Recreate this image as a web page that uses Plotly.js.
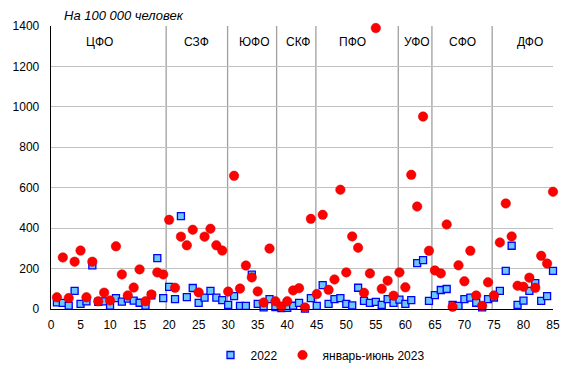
<!DOCTYPE html>
<html>
<head>
<meta charset="utf-8">
<script src="https://cdn.plot.ly/plotly-3.0.1.min.js"></script>
<style>html,body{margin:0;padding:0;background:#fff;}#chart{width:576px;height:374px;}</style>
</head>
<body>
<div id="chart"></div>
<script>
// Region index (subject number)
var regionIndex = [1,2,3,4,5,6,7,8,9,10,11,12,13,14,15,16,17,18,19,20,
  21,22,23,24,25,26,27,28,29,30,31,32,33,34,35,36,37,38,39,40,
  41,42,43,44,45,46,47,48,49,50,51,52,53,54,55,56,57,58,59,60,
  61,62,63,64,65,66,67,68,69,70,71,72,73,74,75,76,77,78,79,80,
  81,82,83,84,85];

// 2022, per 100 000 people
var values2022 = [33,30,16,90,25,38,216,35,38,16,54,36,51,41,31,16,67,252,54,109,
  49,459,59,104,30,56,90,56,44,20,64,15,15,170,25,8,49,10,5,6,
  16,30,2,54,15,118,25,49,54,25,18,105,40,30,35,20,49,30,46,25,
  44,227,242,40,69,94,99,20,15,49,56,31,8,49,57,90,189,313,20,41,
  90,128,40,64,189];

// January-June 2023, per 100 000 people
var values2023 = [58,255,54,234,289,58,234,38,81,42,310,171,67,106,196,38,72,181,171,441,
  105,358,315,392,82,358,397,315,289,86,659,101,215,156,87,32,299,38,12,38,
  92,103,8,446,74,466,95,146,590,181,359,303,80,176,1390,100,140,66,181,107,
  664,507,952,288,191,176,418,11,216,137,288,67,16,132,67,329,522,359,115,110,
  155,105,263,225,580];

var seriesNames = ['2022', 'январь-июнь 2023'];
var districtNames = ['ЦФО','СЗФ','ЮФО','СКФ','ПФО','УФО','СФО','ДФО'];
var xTicks = [0,5,10,15,20,25,30,35,40,45,50,55,60,65,70,75,80,85];
var yTicks = [0,200,400,600,800,1000,1200,1400];

// layout helpers (positions, not data)
var districtLabelX = [8.2,24.7,34.5,41.8,51.1,61.9,69.6,81.1];
var separatorX = [19.5,29.9,38.2,44.85,58.8,64.5,74.7];

var traces = [
  {
    x: regionIndex, y: values2022, name: seriesNames[0],
    type: 'scatter', mode: 'markers', cliponaxis: false,
    marker: {symbol: 'square', size: 7, color: '#6CC8FA', line: {color: '#0000FF', width: 1.3}}
  },
  {
    x: regionIndex, y: values2023, name: seriesNames[1],
    type: 'scatter', mode: 'markers', cliponaxis: false,
    marker: {symbol: 'circle', size: 9.5, color: '#FF0000', line: {color: '#D40000', width: 0.5}}
  }
];

var annotations = districtNames.map(function(n, i){
  return {x: districtLabelX[i], y: 1322, xref: 'x', yref: 'y', text: n, showarrow: false,
    xanchor: 'center', yanchor: 'middle',
    font: {family: 'Liberation Sans, Arial, sans-serif', size: 12, color: '#000'}};
});
annotations.push({x: (123.5-51)/502, y: (309.3-15)/283.3, xref: 'paper', yref: 'paper',
  xanchor: 'center', yanchor: 'middle', text: '<i>На 100 000 человек</i>',
  showarrow: false, font: {family: 'Liberation Sans, Arial, sans-serif', size: 13, color: '#000'}});

var shapes = separatorX.map(function(v){
  return {type: 'line', xref: 'x', yref: 'paper', x0: v, x1: v, y0: 0, y1: 1,
    line: {color: '#A0A0A0', width: 1.3}, layer: 'below'};
});

var layout = {
  width: 576, height: 374,
  margin: {l: 51, r: 23, t: 26, b: 65},
  paper_bgcolor: '#fff', plot_bgcolor: '#fff',
  font: {family: 'Liberation Sans, Arial, sans-serif', size: 12, color: '#000'},
  showlegend: true,
  legend: {orientation: 'h', xref: 'container', yref: 'container',
    x: 320/576, xanchor: 'center', y: 1 - 355/374, yanchor: 'middle',
    font: {size: 12}, itemwidth: 30, tracegroupgap: 0, bgcolor: 'rgba(0,0,0,0)'},
  xaxis: {range: [0, 85], tickvals: xTicks, ticktext: xTicks.map(String), showgrid: false,
    zeroline: false, showline: true, linecolor: '#000', linewidth: 1.3, ticks: '',
    ticklabelstandoff: 4, fixedrange: true, automargin: false},
  yaxis: {range: [0, 1400], tickvals: yTicks, ticktext: yTicks.map(String), showgrid: true,
    gridcolor: '#C0C0C0', gridwidth: 1, zeroline: false, showline: true, linecolor: '#000',
    linewidth: 1.3, ticks: '', ticklabelstandoff: 8, fixedrange: true, automargin: false},
  annotations: annotations,
  shapes: shapes
};

Plotly.newPlot('chart', traces, layout, {displayModeBar: false, staticPlot: true});
</script>
</body>
</html>
